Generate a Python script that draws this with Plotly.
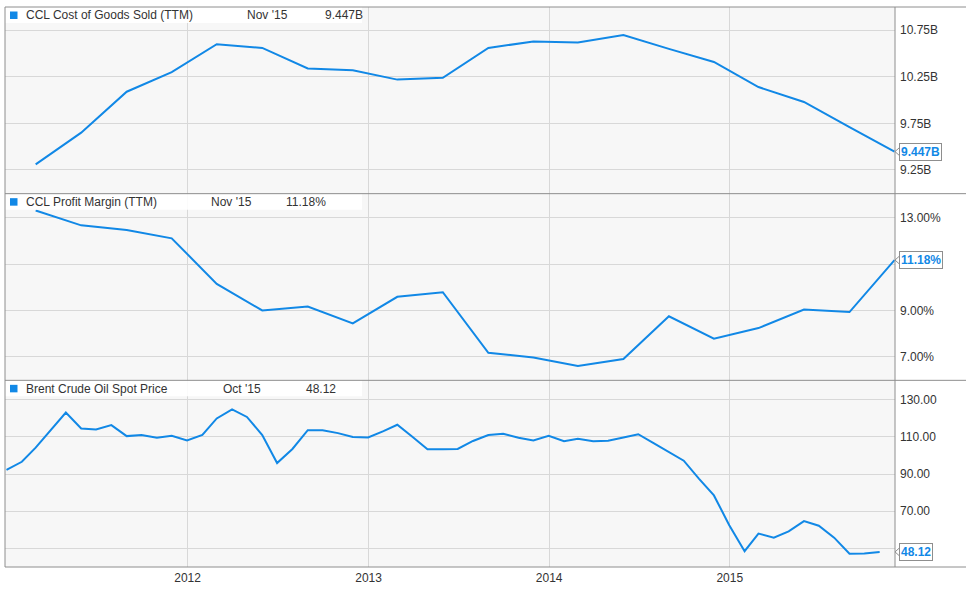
import pandas as pd
import plotly.graph_objects as go
from plotly.subplots import make_subplots

# quarterly (CCL fiscal quarters end Feb/May/Aug/Nov)
quarter_ends = pd.period_range("2011-02", "2015-11", freq="M")[::3].to_timestamp(how="end").normalize()
cogs_b = [9.31, 9.65, 10.09, 10.30, 10.60, 10.56, 10.34, 10.32, 10.22, 10.24,
          10.56, 10.63, 10.62, 10.70, 10.55, 10.41, 10.14, 9.98, 9.71, 9.447]
margin_pct = [13.32, 12.68, 12.48, 12.12, 10.15, 9.00, 9.17, 8.44, 9.59, 9.79,
              7.17, 6.97, 6.60, 6.90, 8.75, 7.78, 8.24, 9.04, 8.93, 11.18]

# monthly Brent spot, Dec 2010 .. Oct 2015
month_ends = pd.period_range("2010-12", "2015-10", freq="M").to_timestamp(how="end").normalize()
brent = [92.3,
         96.6, 104.2, 113.6, 123.1, 114.5, 114.0, 116.3, 110.4, 111.0, 109.5, 110.6, 108.1,
         111.0, 119.9, 124.8, 120.7, 111.0, 95.9, 103.5, 113.6, 113.6, 112.0, 109.9, 109.7,
         113.1, 116.5, 109.9, 103.3, 103.3, 103.5, 107.8, 111.0, 111.7, 109.5, 108.1, 110.6,
         107.6, 109.0, 107.6, 107.9, 109.6, 111.4, 106.6, 101.6, 97.2, 87.4, 78.5, 62.5,
         48.5, 58.0, 55.8, 59.2, 64.7, 62.2, 55.8, 47.1, 47.3, 48.12]

series_names = ["CCL Cost of Goods Sold (TTM)", "CCL Profit Margin (TTM)", "Brent Crude Oil Spot Price"]
last_dates = ["Nov '15", "Nov '15", "Oct '15"]
last_labels = ["9.447B", "11.18%", "48.12"]

year_ticks = ["2012-01-01", "2013-01-01", "2014-01-01", "2015-01-01"]
year_labels = ["2012", "2013", "2014", "2015"]

y_ranges = [(8.995, 11.0), (5.98, 14.05), (40.0, 140.4)]

BLUE = "#1188e6"
GRID = "#d8d8d8"
FRAME = "#8e8e8e"
TEXT = "#333333"
FONT = "Arial, Liberation Sans, sans-serif"

W, H = 970, 599
L, R, T, B = 5, 75, 7, 32
PANEL_H = (H - T - B) / 3


def px(x):
    return (x - L) / (W - L - R)


def py(y):
    return 1 - (y - T) / (H - T - B)


fig = make_subplots(rows=3, cols=1, shared_xaxes=True, vertical_spacing=0)

fig.add_trace(go.Scatter(x=quarter_ends, y=cogs_b, mode="lines",
                         line=dict(color=BLUE, width=2)), row=1, col=1)
fig.add_trace(go.Scatter(x=quarter_ends, y=margin_pct, mode="lines",
                         line=dict(color=BLUE, width=2)), row=2, col=1)
fig.add_trace(go.Scatter(x=month_ends, y=brent, mode="lines",
                         line=dict(color=BLUE, width=2)), row=3, col=1)

for r in (1, 2, 3):
    fig.update_xaxes(range=["2010-12-28", "2015-12-01"], tickvals=year_ticks, ticktext=year_labels,
                     showgrid=True, gridcolor=GRID, gridwidth=1, showline=False, zeroline=False,
                     ticks="", showticklabels=(r == 3), row=r, col=1)

fig.update_xaxes(tickfont=dict(size=12, color=TEXT, family=FONT), ticklabelstandoff=2, row=3, col=1)

yax = dict(side="right", showgrid=True, gridcolor=GRID, gridwidth=1, zeroline=False,
           showline=False, ticks="", ticklabelstandoff=4,
           tickfont=dict(size=12, color=TEXT, family=FONT))
fig.update_yaxes(range=list(y_ranges[0]), tickvals=[9.25, 9.75, 10.25, 10.75],
                 ticktext=["9.25B", "9.75B", "10.25B", "10.75B"], row=1, col=1, **yax)
fig.update_yaxes(range=list(y_ranges[1]), tickvals=[7, 9, 11, 13],
                 ticktext=["7.00%", "9.00%", "", "13.00%"], row=2, col=1, **yax)
fig.update_yaxes(range=list(y_ranges[2]), tickvals=[50, 70, 90, 110, 130],
                 ticktext=["", "70.00", "90.00", "110.00", "130.00"], row=3, col=1, **yax)

shapes = []
annotations = []
last_values = [cogs_b[-1], margin_pct[-1], brent[-1]]
date_x = [245, 209, 221]
value_x = [323, 284, 304]

for i in range(3):
    ax = "" if i == 0 else str(i + 1)
    top = T + i * PANEL_H
    # white legend band
    shapes.append(dict(type="rect", xref="paper", yref="paper",
                       x0=0, x1=px(362), y0=py(top + 16), y1=py(top),
                       fillcolor="rgba(255,255,255,0.9)", line_width=0, layer="above"))
    # legend square
    shapes.append(dict(type="rect", xref="paper", yref="paper",
                       x0=px(10), x1=px(17.5), y0=py(top + 12), y1=py(top + 4.5),
                       fillcolor=BLUE, line_width=0))
    cy = py(top + 8.5)
    for txt, tx in ((series_names[i], 24), (last_dates[i], date_x[i]), (last_labels[i], value_x[i])):
        annotations.append(dict(x=px(tx), y=cy, xref="paper", yref="paper", text=txt,
                                showarrow=False, xanchor="left", yanchor="middle",
                                font=dict(size=12, color=TEXT, family=FONT)))
    # last-value callout on the right axis
    lo, hi = y_ranges[i]
    vy = top + (hi - last_values[i]) / (hi - lo) * PANEL_H
    shapes.append(dict(type="path", xref="paper", yref="paper",
                       path=f"M {px(895)},{py(vy)} L {px(900)},{py(vy - 4.5)} L {px(900)},{py(vy + 4.5)} Z",
                       fillcolor="white", line=dict(color=FRAME, width=1)))
    annotations.append(dict(x=px(899), y=last_values[i], xref="paper", yref=f"y{ax}",
                            text=f"<b>{last_labels[i]}</b>", showarrow=False,
                            xanchor="left", yanchor="middle", bgcolor="white",
                            bordercolor=FRAME, borderwidth=1, borderpad=1,
                            font=dict(size=12, color=BLUE, family=FONT)))

# frame: horizontal rules run past the axis labels, verticals at both plot edges
for y in (0, 1 / 3, 2 / 3, 1):
    shapes.append(dict(type="line", xref="paper", yref="paper", x0=0, x1=px(966), y0=y, y1=y,
                       line=dict(color=FRAME, width=1)))
for x in (0, 1):
    shapes.append(dict(type="line", xref="paper", yref="paper", x0=x, x1=x, y0=0, y1=1,
                       line=dict(color=FRAME, width=1)))

fig.update_layout(
    width=W, height=H,
    margin=dict(l=L, r=R, t=T, b=B),
    paper_bgcolor="white",
    plot_bgcolor="#f7f7f7",
    showlegend=False,
    hovermode=False,
    shapes=shapes,
    annotations=annotations,
    font=dict(family=FONT, color=TEXT),
)

fig.write_html("out.html", config={"displayModeBar": False},
               post_script="document.body.style.margin='0';")
